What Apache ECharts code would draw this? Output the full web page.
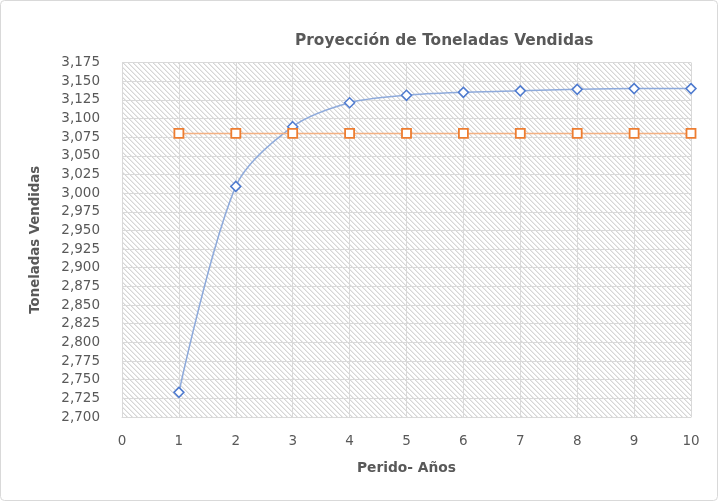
<!DOCTYPE html>
<html>
<head>
<meta charset="utf-8">
<script src="https://cdn.jsdelivr.net/npm/echarts@6/dist/echarts.min.js"></script>
<style>
  html, body { margin: 0; padding: 0; background: #fff; }
  #chart { width: 719px; height: 502px; }
</style>
</head>
<body>
<div id="chart"></div>
<script>
// Años del periodo y toneladas vendidas
const periodos = [1, 2, 3, 4, 5, 6, 7, 8, 9, 10];
const proyeccion = [2.733, 3.009, 3.089, 3.121, 3.131, 3.135, 3.137, 3.139, 3.140, 3.140];
const promedio = [3.080, 3.080, 3.080, 3.080, 3.080, 3.080, 3.080, 3.080, 3.080, 3.080];

const yMin = 2.700, yMax = 3.175, yStep = 0.025;

// Diagonal hatch tile (crisp stripes running top-left to bottom-right)
function hatchTile() {
  const n = 10, period = 5;
  const c = document.createElement('canvas');
  c.width = n; c.height = n;
  const g = c.getContext('2d');
  g.fillStyle = '#ffffff';
  g.fillRect(0, 0, n, n);
  for (let y = 0; y < n; y++) {
    for (let x = 0; x < n; x++) {
      const m = ((x - y) % period + period) % period;
      if (m === 0) { g.fillStyle = '#d6d6d6'; g.fillRect(x, y, 1, 1); }
      else if (m === 1) { g.fillStyle = '#ebebeb'; g.fillRect(x, y, 1, 1); }
    }
  }
  return c;
}

const fmt = v => v.toFixed(3).replace('.', ',');
const pairs = arr => periodos.map((p, i) => [p, arr[i]]);
const FONT = '"DejaVu Sans", Verdana, sans-serif';

const chart = echarts.init(document.getElementById('chart'), null, { renderer: 'canvas' });
chart.setOption({
  animation: false,
  backgroundColor: '#ffffff',
  textStyle: { fontFamily: FONT },
  title: {
    text: 'Proyección de Toneladas Vendidas',
    left: 290, top: 28,
    textStyle: { color: '#595959', fontSize: 15.4, fontWeight: 'bold', fontFamily: FONT }
  },
  graphic: [{
    type: 'rect',
    shape: { x: 0.5, y: 0.5, width: 717, height: 500, r: 4 },
    style: { fill: 'none', stroke: '#d9d9d9', lineWidth: 1 },
    silent: true
  }],
  grid: {
    left: 122, right: 28, top: 62.5, bottom: 85,
    show: true,
    backgroundColor: { image: hatchTile(), repeat: 'repeat' },
    borderWidth: 0
  },
  xAxis: {
    type: 'value', min: 0, max: 10, interval: 1,
    name: 'Perido- Años', nameLocation: 'middle', nameGap: 44,
    nameTextStyle: { color: '#595959', fontSize: 13.8, fontWeight: 'bold' },
    axisLine: { show: true, lineStyle: { color: '#d9d9d9' } },
    axisTick: { show: false },
    axisLabel: { color: '#595959', fontSize: 13.5, margin: 17 },
    splitLine: { show: true, lineStyle: { color: '#d9d9d9', width: 1 } }
  },
  yAxis: {
    type: 'value', min: yMin, max: yMax, interval: yStep,
    name: 'Toneladas Vendidas', nameLocation: 'middle', nameGap: 80, nameRotate: 90,
    nameTextStyle: { color: '#595959', fontSize: 13.3, fontWeight: 'bold' },
    axisLine: { show: true, lineStyle: { color: '#d9d9d9' } },
    axisTick: { show: false },
    axisLabel: { color: '#595959', fontSize: 13.5, margin: 22, formatter: fmt },
    splitLine: { show: true, lineStyle: { color: '#d9d9d9', width: 1 } }
  },
  series: [
    {
      name: 'Proyección',
      type: 'line',
      data: pairs(proyeccion),
      smooth: 0.3,
      symbol: 'diamond', symbolSize: 10,
      lineStyle: { color: '#8eaadb', width: 1.5 },
      itemStyle: { color: '#ffffff', borderColor: '#4f7bcf', borderWidth: 1.5 },
      z: 3
    },
    {
      name: 'Promedio',
      type: 'line',
      data: pairs(promedio),
      symbol: 'rect', symbolSize: 9,
      lineStyle: { color: '#f4b183', width: 1.5 },
      itemStyle: { color: '#ffffff', borderColor: '#ed7d31', borderWidth: 1.8 },
      z: 4
    }
  ]
});
</script>
</body>
</html>
